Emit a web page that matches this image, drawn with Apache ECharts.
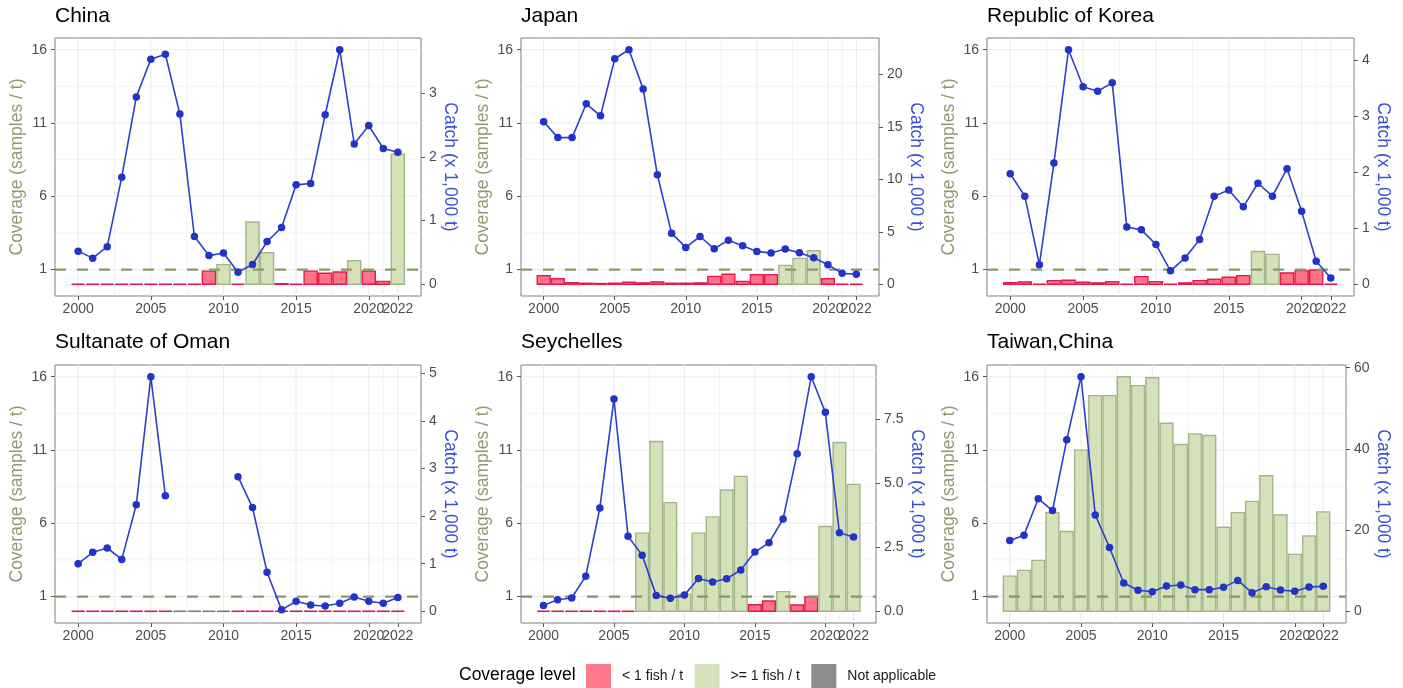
<!DOCTYPE html>
<html>
<head>
<meta charset="utf-8">
<title>Sampling coverage and catch by fleet</title>
<script src="https://cdn.jsdelivr.net/npm/echarts@6.0.0/dist/echarts.min.js"></script>
<style>
  html, body { margin: 0; padding: 0; background: #ffffff; }
  #chart { width: 1403px; height: 688px; }
</style>
</head>
<body>
<div id="chart"></div>
<script>
// ---- data -------------------------------------------------------------
const years = [2000, 2001, 2002, 2003, 2004, 2005, 2006, 2007, 2008, 2009, 2010, 2011,
               2012, 2013, 2014, 2015, 2016, 2017, 2018, 2019, 2020, 2021, 2022];
const yearTicks = [2000, 2005, 2010, 2015, 2020];
const lastYearTick = [2022];
const yearMinorGrid = [2002.5, 2007.5, 2012.5, 2017.5, 2021];
const coverageTicks = [1, 6, 11, 16];
const coverageTickLabels = ['1', '6', '11', '16'];
const coverageMinorGrid = [3.5, 8.5, 13.5];
const coverageThreshold = 1;

const fleets = ['China', 'Japan', 'Republic of Korea', 'Sultanate of Oman', 'Seychelles', 'Taiwan,China'];
const levelNames = ['< 1 fish / t', '>= 1 fish / t', 'Not applicable'];
const legendTitle = 'Coverage level';
const coverageTitle = 'Coverage (samples / t)';
const catchTitle = 'Catch (x 1,000 t)';

// coverage in samples per tonne (null = not applicable)
const coverageChina = [0, 0, 0, 0, 0, 0, 0, 0, 0, 0.9, 1.34, 0, 4.25, 2.15, 0.04, 0.02, 0.9, 0.75, 0.84, 1.6, 0.9, 0.2, 8.87];
const coverageJapan = [0.59, 0.38, 0.11, 0.07, 0.05, 0.07, 0.14, 0.09, 0.16, 0.07, 0.07, 0.09, 0.54, 0.68, 0.2, 0.66, 0.66, 1.29, 1.77, 2.29, 0.38, 0.03, 0.02];
const coverageKorea = [0.11, 0.16, 0.02, 0.25, 0.27, 0.14, 0.09, 0.18, 0.02, 0.52, 0.18, 0.02, 0.09, 0.25, 0.34, 0.48, 0.59, 2.24, 2.04, 0.77, 0.93, 0.97, 0.03];
const coverageOman = [0, 0, 0, 0, 0, 0, 0, null, null, null, null, 0, 0, 0, 0, 0, 0, 0, 0, 0, 0, 0, 0];
const coverageSeychelles = [0, 0, 0, 0, 0, 0, 0, 5.33, 11.58, 7.41, 1.15, 5.33, 6.44, 8.27, 9.2, 0.45, 0.7, 1.34, 0.43, 0.97, 5.78, 11.51, 8.66];
const coverageTaiwan = [2.4, 2.79, 3.47, 6.73, 5.44, 10.99, 14.71, 14.71, 16.0, 15.39, 15.93, 12.83, 11.38, 12.1, 11.99, 5.73, 6.73, 7.5, 9.25, 6.57, 3.88, 5.14, 6.78];

// catch in thousand tonnes (null = no catch reported)
const catchChina = [0.52, 0.41, 0.59, 1.68, 2.94, 3.53, 3.61, 2.67, 0.75, 0.45, 0.49, 0.19, 0.31, 0.67, 0.89, 1.56, 1.58, 2.66, 3.68, 2.2, 2.49, 2.13, 2.07];
const catchJapan = [15.48, 13.97, 13.97, 17.19, 16.05, 21.48, 22.34, 18.61, 10.43, 4.87, 3.51, 4.55, 3.38, 4.2, 3.67, 3.13, 2.97, 3.35, 3.0, 2.53, 1.86, 1.04, 0.95];
const catchKorea = [1.97, 1.57, 0.35, 2.16, 4.18, 3.52, 3.44, 3.59, 1.02, 0.97, 0.71, 0.24, 0.47, 0.8, 1.57, 1.68, 1.38, 1.8, 1.57, 2.06, 1.3, 0.41, 0.11];
const catchOman = [1.0, 1.24, 1.33, 1.09, 2.24, 4.93, 2.43, null, null, null, null, 2.83, 2.18, 0.82, 0.03, 0.21, 0.13, 0.11, 0.17, 0.3, 0.21, 0.17, 0.29];
const catchSeychelles = [0.23, 0.45, 0.52, 1.37, 4.03, 8.28, 2.93, 2.19, 0.62, 0.51, 0.63, 1.28, 1.14, 1.27, 1.61, 2.31, 2.67, 3.6, 6.15, 9.15, 7.76, 3.06, 2.9];
const catchTaiwan = [17.43, 18.74, 27.74, 24.8, 42.23, 57.77, 23.73, 15.71, 6.96, 5.16, 4.83, 6.22, 6.46, 5.32, 5.32, 5.89, 7.61, 4.58, 6.06, 5.24, 4.91, 5.97, 6.14];

// secondary axis ticks
const catchTicksChina = [0, 1, 2, 3];
const catchTicksJapan = [0, 5, 10, 15, 20];
const catchTicksKorea = [0, 1, 2, 3, 4];
const catchTicksOman = [0, 1, 2, 3, 4, 5];
const catchTicksSeychelles = [0, 2.5, 5, 7.5];
const catchTicksTaiwan = [0, 20, 40, 60];
const catchLabelsChina = ['0', '1', '2', '3'];
const catchLabelsJapan = ['0', '5', '10', '15', '20'];
const catchLabelsKorea = ['0', '1', '2', '3', '4'];
const catchLabelsOman = ['0', '1', '2', '3', '4', '5'];
const catchLabelsSeychelles = ['0.0', '2.5', '5.0', '7.5'];
const catchLabelsTaiwan = ['0', '20', '40', '60'];

// ---- layout & style ---------------------------------------------------
const FONT = '"Liberation Sans", Arial, Helvetica, sans-serif';
const COV_MIN = -0.8, COV_MAX = 16.8, COV_REF = 16;   // 16 on the left axis = peak catch
const X_MIN = 1998.405, X_MAX = 2023.595;
const BAR_HALF = 0.45;

const panels = [
  { title: fleets[0], coverage: coverageChina, catch: catchChina, ticks: catchTicksChina, labels: catchLabelsChina },
  { title: fleets[1], coverage: coverageJapan, catch: catchJapan, ticks: catchTicksJapan, labels: catchLabelsJapan },
  { title: fleets[2], coverage: coverageKorea, catch: catchKorea, ticks: catchTicksKorea, labels: catchLabelsKorea },
  { title: fleets[3], coverage: coverageOman, catch: catchOman, ticks: catchTicksOman, labels: catchLabelsOman },
  { title: fleets[4], coverage: coverageSeychelles, catch: catchSeychelles, ticks: catchTicksSeychelles, labels: catchLabelsSeychelles },
  { title: fleets[5], coverage: coverageTaiwan, catch: catchTaiwan, ticks: catchTicksTaiwan, labels: catchLabelsTaiwan }
];

const boxes = [
  { left: 55,  top: 38,  width: 366, height: 258, rightGap: 13.5 },
  { left: 521, top: 38,  width: 358, height: 258, rightGap: 21.5 },
  { left: 987, top: 38,  width: 367, height: 258, rightGap: 15 },
  { left: 55,  top: 365, width: 366, height: 258, rightGap: 14 },
  { left: 521, top: 365, width: 355, height: 258, rightGap: 25 },
  { left: 987, top: 365, width: 359, height: 258, rightGap: 22.5 }
];

const levelStyles = [
  { fill: '#ff7389', stroke: '#e5184a' },
  { fill: '#d5e1b9', stroke: '#a3b689' },
  { fill: '#8c8c8c', stroke: '#7c7c7c' }
];
const legendColors = ['#ff7a8c', '#d6e2bb', '#8c8c8c'];
const GRID_COLOR = '#ebebeb';
const TICK_TEXT = '#4d4d4d';
const TICK_LINE = '#555555';
const COVERAGE_COLOR = '#8d9c6e';
const CATCH_COLOR = '#3d4fd3';
const LINE_COLOR = '#2f3fcb';
const POINT_COLOR = '#2233c8';
const THRESHOLD_COLOR = '#8a9a6a';

function levelOf(v) {
  if (v === null) return 2;
  return v >= coverageThreshold ? 1 : 0;
}

// coverage bar, 0.9 year wide, centred on its year
function renderBar(params, api) {
  const x = api.value(0);
  const v = api.value(1);
  const st = levelStyles[api.value(2)];
  const a = api.coord([x - BAR_HALF, 0]);
  const b = api.coord([x + BAR_HALF, v]);
  if (Math.abs(a[1] - b[1]) < 0.5) {
    return {
      type: 'line',
      shape: { x1: a[0], y1: a[1], x2: b[0], y2: a[1] },
      style: { stroke: st.stroke, lineWidth: 1.6 }
    };
  }
  return {
    type: 'rect',
    shape: { x: a[0], y: b[1], width: b[0] - a[0], height: a[1] - b[1] },
    style: { fill: st.fill, stroke: st.stroke, lineWidth: 1.4 }
  };
}

// panel grid line: item = [orientation (0 vertical, 1 horizontal), value, width]
function renderGridLine(params, api) {
  const cs = params.coordSys;
  const vertical = api.value(0) === 0;
  const v = api.value(1);
  const w = api.value(2);
  if (vertical) {
    const p = api.coord([v, 0]);
    return { type: 'line', shape: { x1: p[0], y1: cs.y, x2: p[0], y2: cs.y + cs.height },
             style: { stroke: GRID_COLOR, lineWidth: w } };
  }
  const p = api.coord([X_MIN, v]);
  return { type: 'line', shape: { x1: cs.x, y1: p[1], x2: cs.x + cs.width, y2: p[1] },
           style: { stroke: GRID_COLOR, lineWidth: w } };
}

// dashed reference at one sample per tonne
function renderThreshold(params, api) {
  const cs = params.coordSys;
  const p = api.coord([X_MIN, api.value(0)]);
  return { type: 'line', shape: { x1: cs.x, y1: p[1], x2: cs.x + cs.width, y2: p[1] },
           style: { stroke: THRESHOLD_COLOR, lineWidth: 2.4, lineDash: [11, 11] } };
}

function yearAxis(gridIndex, values) {
  return {
    type: 'value', gridIndex: gridIndex, position: 'bottom', offset: 0, min: X_MIN, max: X_MAX,
    axisLine: { show: false, onZero: false },
    axisTick: { show: true, customValues: values, length: 4, lineStyle: { color: TICK_LINE } },
    axisLabel: { customValues: values, margin: 6, color: TICK_TEXT, fontSize: 14, fontFamily: FONT,
                 formatter: v => String(v), hideOverlap: false, showMinLabel: true, showMaxLabel: true },
    splitLine: { show: false }
  };
}

const grid = [], xAxis = [], yAxis = [], series = [], graphic = [];

const gridLineItems = [];
yearTicks.concat(lastYearTick).forEach(v => gridLineItems.push([0, v, 1.1]));
yearMinorGrid.forEach(v => gridLineItems.push([0, v, 0.6]));
coverageTicks.forEach(v => gridLineItems.push([1, v, 1.1]));
coverageMinorGrid.forEach(v => gridLineItems.push([1, v, 0.6]));

panels.forEach((p, i) => {
  const box = boxes[i];
  grid.push({
    left: box.left, top: box.top, width: box.width, height: box.height,
    show: true, borderColor: '#808080', borderWidth: 1, backgroundColor: '#ffffff',
    containLabel: false, outerBoundsMode: 'none'
  });

  // the final year gets its own axis so its label sits beside 2020
  xAxis.push(yearAxis(i, yearTicks));
  xAxis.push(yearAxis(i, lastYearTick));

  const maxCatch = Math.max(...p.catch.filter(v => v !== null));
  const k = maxCatch / COV_REF;

  yAxis.push({
    type: 'value', gridIndex: i, position: 'left', min: COV_MIN, max: COV_MAX,
    axisLine: { show: false, onZero: false },
    axisTick: { show: true, customValues: coverageTicks, length: 4, lineStyle: { color: TICK_LINE } },
    axisLabel: { customValues: coverageTicks, margin: 8, color: TICK_TEXT, fontSize: 14, fontFamily: FONT,
                 showMinLabel: true, showMaxLabel: true,
                 formatter: v => coverageTickLabels[coverageTicks.indexOf(v)] },
    splitLine: { show: false },
    name: coverageTitle, nameLocation: 'middle', nameRotate: 90, nameGap: 29,
    nameTextStyle: { color: COVERAGE_COLOR, fontSize: 17.5, fontFamily: FONT }
  });
  yAxis.push({
    type: 'value', gridIndex: i, position: 'right', min: COV_MIN * k, max: COV_MAX * k,
    axisLine: { show: false, onZero: false },
    axisTick: { show: true, customValues: p.ticks, length: 4, lineStyle: { color: TICK_LINE } },
    axisLabel: { customValues: p.ticks, margin: 8, color: TICK_TEXT, fontSize: 14, fontFamily: FONT,
                 showMinLabel: true, showMaxLabel: true,
                 formatter: v => p.labels[p.ticks.indexOf(v)] },
    splitLine: { show: false },
    name: catchTitle, nameLocation: 'middle', nameRotate: -90, nameGap: box.rightGap,
    nameTextStyle: { color: CATCH_COLOR, fontSize: 17.5, fontFamily: FONT }
  });

  const xi = 2 * i, lt = 2 * i, rt = 2 * i + 1;

  series.push({
    type: 'custom', xAxisIndex: xi, yAxisIndex: lt, z: 1, silent: true,
    renderItem: renderGridLine, encode: { x: 1, y: 1 },
    data: gridLineItems
  });

  series.push({
    type: 'custom', xAxisIndex: xi, yAxisIndex: lt, z: 2, silent: true,
    renderItem: renderBar,
    data: years.map((y, j) => [y, p.coverage[j] === null ? 0 : p.coverage[j], levelOf(p.coverage[j])])
  });

  series.push({
    type: 'custom', xAxisIndex: xi, yAxisIndex: lt, z: 3, silent: true,
    renderItem: renderThreshold, encode: { y: 0 },
    data: [[coverageThreshold]]
  });

  series.push({
    type: 'line', xAxisIndex: xi, yAxisIndex: rt, z: 4, silent: true,
    data: years.map((y, j) => [y, p.catch[j] === null ? '-' : p.catch[j]]),
    connectNulls: false,
    symbol: 'circle', symbolSize: 7.5, showSymbol: true,
    itemStyle: { color: POINT_COLOR, borderWidth: 0 },
    lineStyle: { color: LINE_COLOR, width: 1.6 }
  });

  graphic.push({
    type: 'text', left: box.left, top: (box.top < 100 ? 17.5 : 344) - 12,
    style: { text: p.title, fill: '#000000', font: '21px ' + FONT }
  });
});

// legend keys
levelNames.forEach((name, n) => {
  series.push({ type: 'bar', name: name, xAxisIndex: 0, yAxisIndex: 0, data: [],
                itemStyle: { color: legendColors[n] } });
});
graphic.push({
  type: 'text', left: 459, top: 666,
  style: { text: legendTitle, fill: '#000000', font: '17.5px ' + FONT }
});

const chart = echarts.init(document.getElementById('chart'), null, { renderer: 'canvas' });
chart.setOption({
  animation: false,
  backgroundColor: '#ffffff',
  textStyle: { fontFamily: FONT },
  grid, xAxis, yAxis, series, graphic,
  legend: {
    left: 586, top: 664, padding: 0,
    itemWidth: 25, itemHeight: 24, itemGap: 11.5,
    selectedMode: false,
    textStyle: { fontSize: 14, color: '#1a1a1a', fontFamily: FONT, padding: [0, 0, 0, 6] },
    data: levelNames.map(n => ({ name: n, icon: 'rect' }))
  }
});
</script>
</body>
</html>
